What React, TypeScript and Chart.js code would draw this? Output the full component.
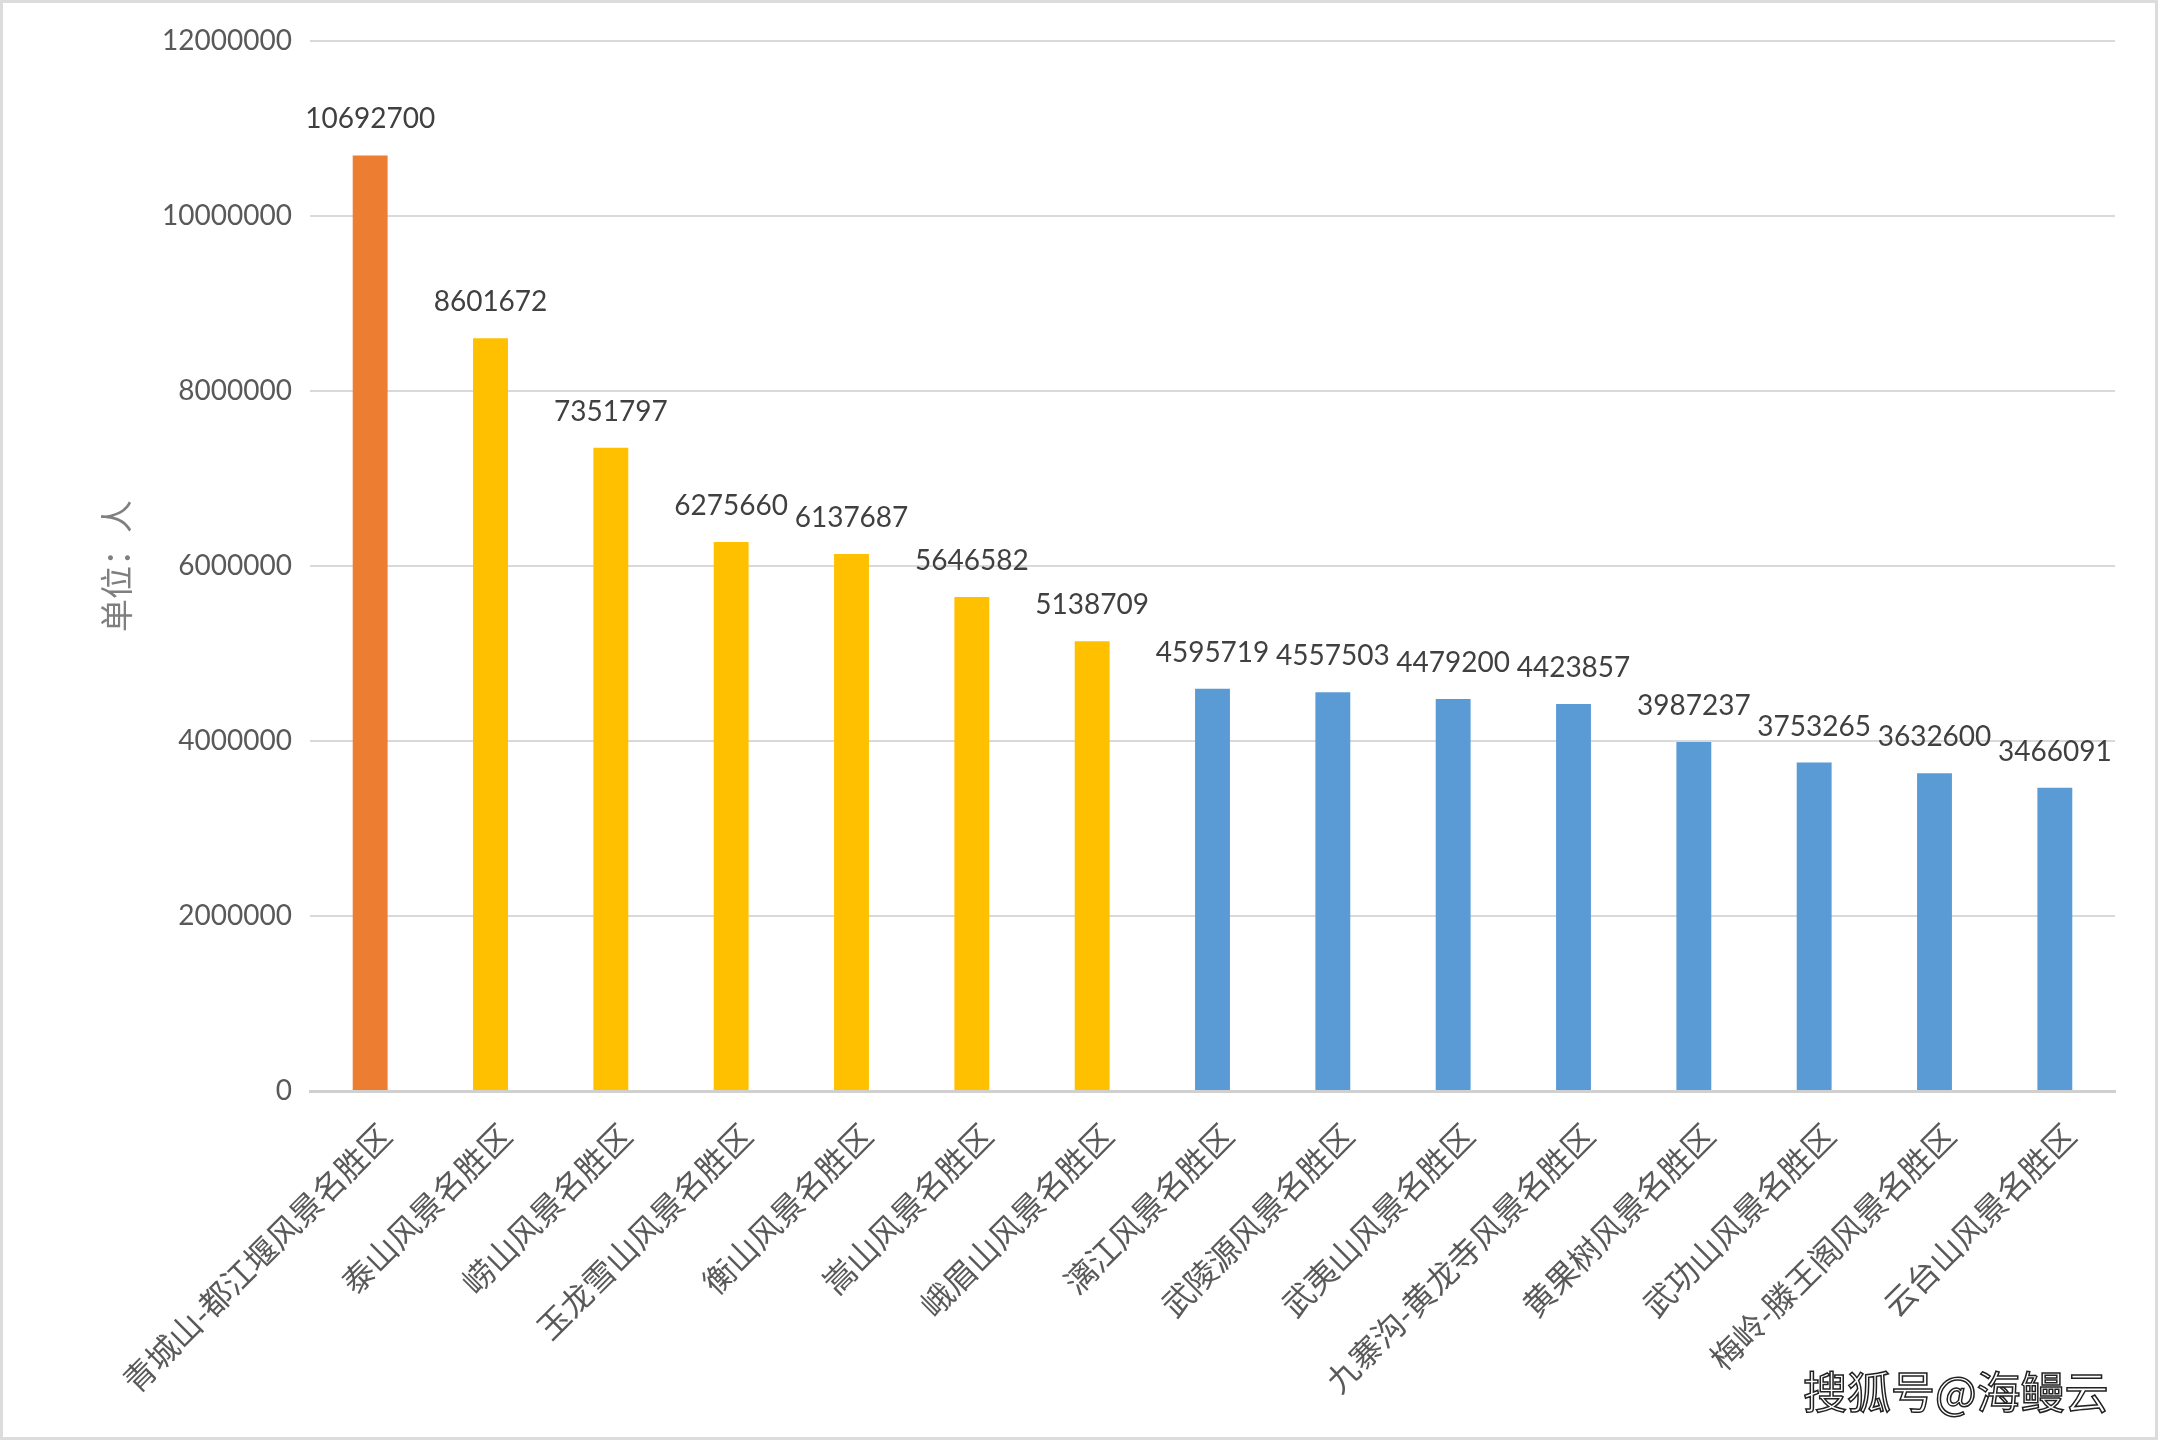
import React, { useEffect, useRef } from "react";
import { Chart, registerables } from "chart.js";

Chart.register(...registerables);

const categories: string[] = [
  "青城山-都江堰风景名胜区",
  "泰山风景名胜区",
  "崂山风景名胜区",
  "玉龙雪山风景名胜区",
  "衡山风景名胜区",
  "嵩山风景名胜区",
  "峨眉山风景名胜区",
  "漓江风景名胜区",
  "武陵源风景名胜区",
  "武夷山风景名胜区",
  "九寨沟-黄龙寺风景名胜区",
  "黄果树风景名胜区",
  "武功山风景名胜区",
  "梅岭-滕王阁风景名胜区",
  "云台山风景名胜区",
];

const visitors: number[] = [
  10692700, 8601672, 7351797, 6275660, 6137687, 5646582, 5138709, 4595719,
  4557503, 4479200, 4423857, 3987237, 3753265, 3632600, 3466091,
];

// tier per category: 0 = top, 1 = second tier, 2 = third tier
const tiers: number[] = [0, 1, 1, 1, 1, 1, 1, 2, 2, 2, 2, 2, 2, 2, 2];
const tierColors: string[] = ["#ED7D31", "#FFC000", "#5B9BD5"];

const yTicks: number[] = [0, 2000000, 4000000, 6000000, 8000000, 10000000, 12000000];
const yTitle = "单位：人";
const watermark = "搜狐号@海鳗云";

const W = 2158;
const H = 1440;

const dataLabelPlugin = {
  id: "dataLabels",
  afterDatasetsDraw(chart: any) {
    const ctx = chart.ctx;
    const meta = chart.getDatasetMeta(0);
    ctx.save();
    ctx.font = "28px Lato";
    ctx.fillStyle = "#404040";
    ctx.textAlign = "center";
    ctx.textBaseline = "alphabetic";
    meta.data.forEach((bar: any, i: number) => {
      const v = chart.data.datasets[0].data[i];
      ctx.fillText(String(v), bar.x, bar.y - 27);
    });
    ctx.restore();
  },
};

export default function App() {
  const ref = useRef<HTMLCanvasElement | null>(null);

  useEffect(() => {
    document.body.style.margin = "0";
    if (!ref.current) return;
    const chart = new Chart(ref.current, {
      type: "bar",
      data: {
        labels: categories,
        datasets: [
          {
            data: visitors,
            backgroundColor: tiers.map((t) => tierColors[t]),
            barPercentage: 0.29,
            categoryPercentage: 1,
          },
        ],
      },
      options: {
        animation: false,
        responsive: false,
        maintainAspectRatio: false,
        layout: { padding: { top: 41, right: 43, bottom: 20, left: 0 } },
        plugins: {
          legend: { display: false },
          tooltip: { enabled: false },
        },
        scales: {
          x: {
            grid: { display: false, drawTicks: false },
            border: { display: true, color: "#d0d0d0", width: 3 },
            ticks: {
              color: "#595959",
              font: { family: "'Noto Sans CJK SC'", size: 32 },
              maxRotation: 45,
              minRotation: 45,
              autoSkip: false,
              padding: 25,
              labelOffset: 15,
            },
            afterFit: (scale: any) => {
              scale.height = H - 1091 - 20;
            },
          },
          y: {
            min: 0,
            max: 12000000,
            afterBuildTicks: (scale: any) => {
              scale.ticks = yTicks.map((v) => ({ value: v }));
            },
            grid: { color: "#d9d9d9", lineWidth: 2, drawTicks: false },
            border: { display: false },
            ticks: {
              color: "#595959",
              font: { family: "Lato", size: 28 },
              padding: 18,
              callback: (v: any) => String(v),
            },
            title: {
              display: true,
              text: yTitle,
              color: "#7f7f7f",
              font: { family: "'Noto Sans CJK SC'", size: 33 },
              padding: { top: 97, bottom: 0 },
            },
            afterFit: (scale: any) => {
              scale.width = 310;
            },
          },
        },
      },
      plugins: [dataLabelPlugin],
    });
    return () => chart.destroy();
  }, []);

  return (
    <div
      style={{
        position: "absolute",
        left: 0,
        top: 0,
        width: W,
        height: H,
        background: "#ffffff",
        overflow: "hidden",
      }}
    >
      <canvas ref={ref} width={W} height={H} style={{ display: "block" }} />
      <div
        style={{
          position: "absolute",
          left: 0,
          top: 0,
          width: W,
          height: H,
          boxSizing: "border-box",
          border: "3px solid #dcdcdc",
          pointerEvents: "none",
        }}
      />
      <span
        style={{
          position: "absolute",
          left: 1803,
          top: 1360,
          fontFamily: "'Noto Sans CJK SC'",
          fontSize: 44,
          color: "#ffffff",
          WebkitTextStroke: "1.5px #222222",
          whiteSpace: "nowrap",
          lineHeight: "60px",
        }}
      >
        {watermark}
      </span>
    </div>
  );
}
